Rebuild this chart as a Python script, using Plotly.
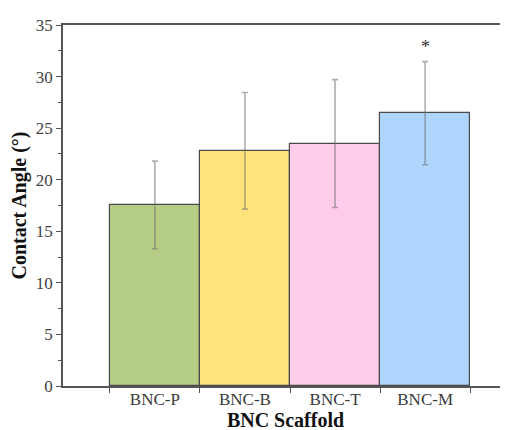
import plotly.graph_objects as go

categories = ["BNC-P", "BNC-B", "BNC-T", "BNC-M"]
contact_angle = [17.55, 22.8, 23.5, 26.45]
error = [4.25, 5.65, 6.2, 5.0]
colors = ["#b6cd86", "#ffe47b", "#ffcde9", "#aed5fc"]
significance = ["", "", "", "*"]
y_ticks = [0, 5, 10, 15, 20, 25, 30, 35]

xpos = list(range(1, len(categories) + 1))
font_family = "Liberation Serif, Times New Roman, serif"

fig = go.Figure()
fig.add_trace(go.Bar(
    x=xpos, y=contact_angle, width=1.0,
    marker=dict(color=colors, line=dict(color="#4a4a4a", width=1.2)),
    error_y=dict(type="data", array=error, visible=True,
                 color="rgba(110,110,110,0.55)", thickness=1.6, width=3),
    showlegend=False,
))

for x, v, e, s in zip(xpos, contact_angle, error, significance):
    if s:
        fig.add_annotation(x=x, y=v + e + 1.4, text=s, showarrow=False,
                           font=dict(family=font_family, size=18, color="#333"),
                           yanchor="middle")

fig.update_layout(
    width=508, height=430,
    margin=dict(l=55, r=8, t=14, b=52),
    plot_bgcolor="white", paper_bgcolor="white",
    font=dict(family=font_family, color="#333"),
    bargap=0,
)
fig.update_xaxes(
    range=[-0.02, 4.92],
    tickvals=xpos, ticktext=categories, ticks="",
    ticklabelstandoff=-3,
    tickfont=dict(size=17, color="#3a3a3a"),
    showgrid=False, zeroline=False,
    showline=True, linecolor="#555", linewidth=1.5, mirror=True,
    minor=dict(tickvals=[p - 0.5 for p in xpos] + [xpos[-1] + 0.5],
               ticks="outside", ticklen=5, tickcolor="#555", tickwidth=1.2, showgrid=False),
    title=dict(text="<b>BNC Scaffold</b>", font=dict(size=20, color="#111"), standoff=1),
)
fig.update_yaxes(
    range=[0, 35], tickvals=y_ticks, ticks="outside", ticklen=5,
    tickcolor="#555", tickwidth=1.2,
    tickfont=dict(size=17, color="#444"),
    showgrid=False, zeroline=False,
    showline=True, linecolor="#555", linewidth=1.5,
    minor=dict(dtick=2.5, ticks="outside", ticklen=3, tickcolor="#555", showgrid=False),
    title=dict(text="<b>Contact Angle (°)</b>", font=dict(size=20, color="#111"), standoff=4),
)

fig.write_html("out.html")
